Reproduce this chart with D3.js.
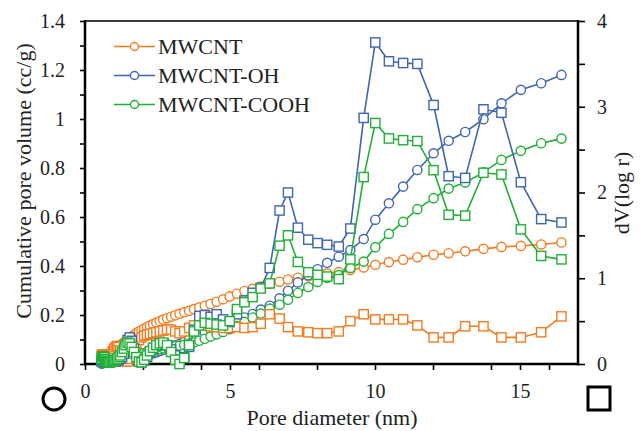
<!DOCTYPE html>
<html>
<head>
<meta charset="utf-8">
<script src="https://cdn.jsdelivr.net/npm/d3@7"></script>
<style>
  html, body { margin: 0; padding: 0; background: #fff; }
  svg { display: block; }
  text { font-family: "Liberation Serif", "Times New Roman", serif; fill: #222; }
</style>
</head>
<body>
<script>
// ---------------- DATA ----------------
const diameter = [0.57, 0.60, 0.63, 0.66, 0.69, 0.72, 0.76, 0.80, 0.84, 0.88,
  0.92, 0.96, 1.01, 1.06, 1.11, 1.16, 1.22, 1.28, 1.34, 1.40,
  1.47, 1.54, 1.61, 1.69, 1.77, 1.86, 1.95, 2.04, 2.14, 2.24,
  2.35, 2.46, 2.58, 2.70, 2.83, 2.97, 3.11, 3.26, 3.42, 3.59,
  3.76, 3.94, 4.13, 4.33, 4.54, 4.76, 4.99, 5.24, 5.50, 5.78,
  6.06,
  6.37, 6.71, 7.00, 7.34, 7.70, 8.02, 8.35, 8.75, 9.15, 9.61,
  10.01, 10.48, 10.97, 11.46, 12.02, 12.54, 13.11, 13.74, 14.36, 15.03,
  15.73, 16.43];

// Cumulative pore volume (cc/g) - left axis, circles
const mwcntCum = [0.005, 0.008, 0.011, 0.014, 0.017, 0.020, 0.024, 0.028, 0.032, 0.036,
  0.040, 0.045, 0.050, 0.056, 0.062, 0.068, 0.075, 0.082, 0.088, 0.094,
  0.100, 0.106, 0.112, 0.119, 0.126, 0.133, 0.139, 0.145, 0.151, 0.157,
  0.163, 0.169, 0.175, 0.181, 0.187, 0.193, 0.199, 0.205, 0.211, 0.217,
  0.224, 0.231, 0.238, 0.245, 0.254, 0.264, 0.276, 0.287, 0.298, 0.307,
  0.316,
  0.327, 0.336, 0.345, 0.352, 0.358, 0.364, 0.369, 0.375, 0.384, 0.394,
  0.405, 0.416, 0.426, 0.436, 0.446, 0.452, 0.460, 0.470, 0.478, 0.482,
  0.488, 0.496];
const mwcntOhCum = [0.002, 0.003, 0.004, 0.005, 0.006, 0.007, 0.008, 0.009, 0.010, 0.010,
  0.011, 0.011, 0.012, 0.012, 0.013, 0.013, 0.014, 0.014, 0.015, 0.016,
  0.018, 0.020, 0.022, 0.024, 0.026, 0.028, 0.031, 0.034, 0.037, 0.040,
  0.044, 0.048, 0.053, 0.058, 0.064, 0.070, 0.076, 0.082, 0.090, 0.100,
  0.110, 0.120, 0.130, 0.140, 0.150, 0.160, 0.170, 0.180, 0.190, 0.204,
  0.222,
  0.238, 0.268, 0.299, 0.333, 0.362, 0.387, 0.413, 0.438, 0.465, 0.510,
  0.589, 0.656, 0.724, 0.792, 0.860, 0.911, 0.947, 0.999, 1.064, 1.119,
  1.146, 1.180];
const mwcntCoohCum = [0.003, 0.005, 0.007, 0.008, 0.009, 0.010, 0.011, 0.012, 0.013, 0.014,
  0.015, 0.016, 0.017, 0.018, 0.019, 0.020, 0.021, 0.022, 0.024, 0.026,
  0.028, 0.031, 0.034, 0.037, 0.039, 0.041, 0.043, 0.045, 0.048, 0.051,
  0.054, 0.057, 0.060, 0.064, 0.068, 0.071, 0.073, 0.075, 0.078, 0.083,
  0.088, 0.095, 0.103, 0.112, 0.121, 0.131, 0.142, 0.155, 0.172, 0.190,
  0.206,
  0.226, 0.242, 0.262, 0.290, 0.314, 0.335, 0.351, 0.363, 0.392, 0.418,
  0.477, 0.531, 0.580, 0.632, 0.677, 0.716, 0.741, 0.782, 0.833, 0.870,
  0.901, 0.920];

// dV(log r) - right axis, squares
const mwcntDv = [0.10, 0.11, 0.11, 0.10, 0.09, 0.08, 0.07, 0.07, 0.08, 0.10,
  0.12, 0.15, 0.18, 0.20, 0.21, 0.20, 0.16, 0.10, 0.05, 0.03,
  0.03, 0.06, 0.12, 0.18, 0.24, 0.28, 0.31, 0.33, 0.34, 0.35,
  0.36, 0.37, 0.38, 0.39, 0.40, 0.40, 0.38, 0.36, 0.38, 0.42,
  0.45, 0.46, 0.45, 0.44, 0.43, 0.42, 0.42, 0.43, 0.42, 0.43,
  0.47,
  0.58, 0.53, 0.43, 0.38, 0.37, 0.36, 0.36, 0.38, 0.50, 0.58,
  0.52, 0.52, 0.52, 0.45, 0.31, 0.31, 0.44, 0.44, 0.31, 0.31,
  0.37, 0.555];
const mwcntOhDv = [0.03, 0.05, 0.06, 0.05, 0.04, 0.03, 0.02, 0.02, 0.02, 0.03,
  0.04, 0.04, 0.03, 0.03, 0.04, 0.05, 0.06, 0.08, 0.12, 0.20,
  0.28, 0.31, 0.27, 0.18, 0.08, 0.03, 0.02, 0.04, 0.08, 0.14,
  0.18, 0.21, 0.23, 0.24, 0.22, 0.17, 0.10, 0.05, 0.08, 0.20,
  0.40, 0.56, 0.57, 0.55, 0.58, 0.52, 0.49, 0.58, 0.74, 0.83,
  0.89,
  1.12, 1.79, 2.00, 1.59, 1.45, 1.41, 1.39, 1.37, 1.58, 2.87,
  3.75, 3.53, 3.51, 3.50, 3.02, 2.19, 2.17, 2.97, 2.93, 2.12,
  1.69, 1.65];
const mwcntCoohDv = [0.06, 0.08, 0.09, 0.08, 0.06, 0.04, 0.03, 0.02, 0.02, 0.02,
  0.03, 0.04, 0.04, 0.05, 0.06, 0.08, 0.10, 0.14, 0.18, 0.22,
  0.25, 0.24, 0.20, 0.14, 0.08, 0.03, 0.02, 0.05, 0.10, 0.15,
  0.19, 0.22, 0.24, 0.25, 0.22, 0.14, 0.05, 0.00, 0.07, 0.22,
  0.38, 0.45, 0.48, 0.47, 0.46, 0.45, 0.50, 0.64, 0.72, 0.78,
  0.88,
  0.94, 1.38, 1.50, 1.19, 1.07, 1.04, 1.02, 0.99, 1.22, 2.18,
  2.81, 2.63, 2.61, 2.60, 2.26, 1.74, 1.73, 2.23, 2.21, 1.57,
  1.26, 1.22];

const seriesNames = ["MWCNT", "MWCNT-OH", "MWCNT-COOH"];
const seriesColors = ["#f47b20", "#3f66b0", "#21b036"];

const xTicks = [0, 2, 4, 5, 6, 8, 10, 12, 14, 15, 16];
const xTickLabels = [0, 5, 10, 15];
const leftTicks = [0, 0.1, 0.2, 0.3, 0.4, 0.5, 0.6, 0.7, 0.8, 0.9, 1.0, 1.1, 1.2, 1.3, 1.4];
const leftTickLabels = [0, 0.2, 0.4, 0.6, 0.8, 1.0, 1.2, 1.4];
const rightTicks = [0, 0.5, 1, 1.5, 2, 2.5, 3, 3.5, 4];
const rightTickLabels = [0, 1, 2, 3, 4];

// ---------------- CHART ----------------
const svg = d3.select("body").append("svg").attr("width", 640).attr("height", 431);

const x = d3.scaleLinear().domain([0, 17]).range([85, 578]);
const yL = d3.scaleLinear().domain([0, 1.4]).range([364, 21]);
const yR = d3.scaleLinear().domain([0, 4]).range([364, 21]);

const has = (arr, v) => arr.some(a => Math.abs(a - v) < 1e-9);

// axes
const gL = svg.append("g").attr("transform", "translate(85,0)")
  .call(d3.axisLeft(yL).tickValues(leftTicks).tickSizeInner(5).tickSizeOuter(0).tickPadding(15)
    .tickFormat(d => has(leftTickLabels, d) ? d3.format("~g")(d) : ""));
const gR = svg.append("g").attr("transform", "translate(578,0)")
  .call(d3.axisRight(yR).tickValues(rightTicks).tickSizeInner(7).tickSizeOuter(0).tickPadding(12)
    .tickFormat(d => has(rightTickLabels, d) ? d3.format("~g")(d) : ""));
const gB = svg.append("g").attr("transform", "translate(0,364)")
  .call(d3.axisBottom(x).tickValues(xTicks).tickSizeInner(6).tickSizeOuter(0).tickPadding(14)
    .tickFormat(d => has(xTickLabels, d) ? d3.format("~g")(d) : ""));
[gL, gR, gB].forEach(g => {
  g.select(".domain").remove();
  g.selectAll(".tick line").attr("stroke", "#000").attr("stroke-width", 1.6);
  g.selectAll(".tick text").attr("font-size", 20).attr("fill", "#222")
    .style("font-family", "'Liberation Serif', 'Times New Roman', serif");
});

// frame
const frame = svg.append("g").attr("stroke", "#000");
frame.append("line").attr("x1", x(0)).attr("x2", x(0)).attr("y1", yL(1.4) - 1).attr("y2", yL(0) + 1.2).attr("stroke-width", 2.5);
frame.append("line").attr("x1", x(17)).attr("x2", x(17)).attr("y1", yL(1.4) - 1).attr("y2", yL(0) + 1.2).attr("stroke-width", 2.5);
frame.append("line").attr("x1", x(0)).attr("x2", x(17)).attr("y1", yL(0)).attr("y2", yL(0)).attr("stroke-width", 2.5);
frame.append("line").attr("x1", x(0)).attr("x2", x(17)).attr("y1", yL(1.4)).attr("y2", yL(1.4)).attr("stroke-width", 1.5);

// series
const cumSeries = [mwcntCum, mwcntOhCum, mwcntCoohCum];
const dvSeries = [mwcntDv, mwcntOhDv, mwcntCoohDv];

function drawSeries(vals, yScale, color, shape) {
  const pts = diameter.map((d, i) => [x(d), yScale(vals[i])]);
  const g = svg.append("g");
  g.append("path").attr("d", d3.line()(pts)).attr("fill", "none")
    .attr("stroke", color).attr("stroke-width", 1.6);
  if (shape === "circle") {
    g.selectAll("circle").data(pts).join("circle")
      .attr("cx", p => p[0]).attr("cy", p => p[1]).attr("r", 4.6)
      .attr("fill", "#fff").attr("stroke", color).attr("stroke-width", 1.4);
  } else {
    g.selectAll("rect").data(pts).join("rect")
      .attr("x", p => p[0] - 4.6).attr("y", p => p[1] - 4.6)
      .attr("width", 9.2).attr("height", 9.2)
      .attr("fill", "#fff").attr("stroke", color).attr("stroke-width", 1.4);
  }
}
cumSeries.forEach((s, i) => drawSeries(s, yL, seriesColors[i], "circle"));
dvSeries.forEach((s, i) => drawSeries(s, yR, seriesColors[i], "square"));

// legend
const legend = svg.append("g");
seriesNames.forEach((name, i) => {
  const yy = 46.5 + i * 29;
  legend.append("line").attr("x1", 114).attr("x2", 155).attr("y1", yy).attr("y2", yy)
    .attr("stroke", seriesColors[i]).attr("stroke-width", 1.6);
  legend.append("circle").attr("cx", 134.5).attr("cy", yy).attr("r", 4)
    .attr("fill", "#fff").attr("stroke", seriesColors[i]).attr("stroke-width", 1.4);
  legend.append("text").attr("x", 158).attr("y", yy + 7.5).attr("font-size", 22).text(name);
});

// axis titles
svg.append("text").attr("transform", "translate(31,181) rotate(-90)")
  .attr("text-anchor", "middle").attr("font-size", 22).text("Cumulative pore volume (cc/g)");
svg.append("text").attr("transform", "translate(629,193) rotate(-90)")
  .attr("text-anchor", "middle").attr("font-size", 22).text("dV(log r)");
svg.append("text").attr("x", 332).attr("y", 425)
  .attr("text-anchor", "middle").attr("font-size", 22).text("Pore diameter (nm)");

// marker keys under axes
svg.append("circle").attr("cx", 54).attr("cy", 399).attr("r", 11)
  .attr("fill", "none").attr("stroke", "#000").attr("stroke-width", 3);
svg.append("rect").attr("x", 588).attr("y", 387).attr("width", 22).attr("height", 23)
  .attr("fill", "none").attr("stroke", "#000").attr("stroke-width", 3);
</script>
</body>
</html>
